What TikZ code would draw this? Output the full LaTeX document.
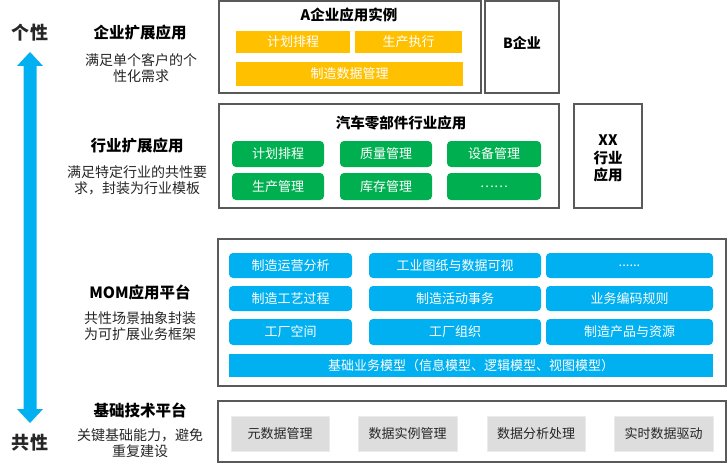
\documentclass[tikz,border=0pt]{standalone}
\usepackage{fontspec}
\setmainfont{Noto Sans CJK SC}
\definecolor{mblue}{HTML}{00B0F0}
\definecolor{mgreen}{HTML}{00B050}
\definecolor{myellow}{HTML}{FFC000}
\definecolor{mgray}{HTML}{DDDDDD}
\definecolor{mgrayline}{HTML}{EBEBEB}
\definecolor{frame}{HTML}{595959}
\definecolor{txt}{HTML}{262626}
\tikzset{
  outer/.style={draw=frame, line width=1.3pt, fill=white, inner sep=0pt},
  ybox/.style={fill=myellow, text=white, inner sep=0pt, font=\fontsize{13}{15}\selectfont},
  gbox/.style={fill=mgreen, rounded corners=4pt, text=white, inner sep=0pt, minimum width=92pt, font=\fontsize{13}{15}\selectfont},
  bbox/.style={fill=mblue, rounded corners=4pt, text=white, inner sep=0pt, font=\fontsize{13}{15}\selectfont},
  graybox/.style={fill=mgray, draw=mgrayline, line width=1pt, text=txt, inner sep=0pt, minimum width=98pt, minimum height=35pt, font=\fontsize{13}{15}\selectfont},
  head/.style={text=black, font=\bfseries\fontsize{15.5}{17}\selectfont},
  desc/.style={text=txt, align=center, font=\fontsize{14}{16}\selectfont},
  btitle/.style={text=black, font=\bfseries\fontsize{14.5}{17}\selectfont},
  side/.style={text=txt, font=\bfseries\fontsize{18}{20}\selectfont}
}
\begin{document}
\begin{tikzpicture}[x=1pt,y=-1pt]
\useasboundingbox (0,0) rectangle (727,468);

% left arrow
\coordinate (atop) at (30,52);
\coordinate (abot) at (30,423);
\fill[mblue] (atop) -- (43,66) -- (36.5,66) -- (36.5,409) -- (43,409) -- (abot) -- (17,409) -- (23.5,409) -- (23.5,66) -- (17,66) -- cycle;
\node[side] (ind) at (30,33) {个性};
\node[side] (com) at (30,443) {共性};

% left descriptions
\node[head] (h1) at (140,33) {企业扩展应用};
\node[desc] (d1) at (141,68) {满足单个客户的个\\性化需求};
\node[head] (h2) at (137,146) {行业扩展应用};
\node[desc] (d2) at (137,180) {满足特定行业的共性要\\求，封装为行业模板};
\node[head] (h3) at (140,292) {MOM应用平台};
\node[desc] (d3) at (140,326) {共性场景抽象封装\\为可扩展业务框架};
\node[head] (h4) at (140,410) {基础技术平台};
\node[desc] (d4) at (140,443.5) {关键基础能力，避免\\重复建设};

% enterprise layer
\node[outer, minimum width=262pt, minimum height=92pt] (A) at (350,47) {};
\node[btitle] (At) at (349,15) {A企业应用实例};
\node[ybox, minimum width=114pt, minimum height=22pt] (y1) at (293,42) {计划排程};
\node[ybox, minimum width=107pt, minimum height=22pt] (y2) at (408.5,42) {生产执行};
\node[ybox, minimum width=227pt, minimum height=24pt] (y3) at (349.5,74) {制造数据管理};
\node[outer, minimum width=74pt, minimum height=92pt] (B) at (522,47) {};
\node[btitle, font=\bfseries\fontsize{14}{16}\selectfont] (Bt) at (522,43) {B企业};

% industry layer
\node[outer, minimum width=340pt, minimum height=104pt] (C) at (389,156) {};
\node[btitle] (Ct) at (401,123) {汽车零部件行业应用};
\node[gbox, minimum height=26pt] (g1) at (278,154) {计划排程};
\node[gbox, minimum height=26pt] (g2) at (386,154) {质量管理};
\node[gbox, minimum height=26pt, minimum width=94pt] (g3) at (494,154) {设备管理};
\node[gbox, minimum height=27pt] (g4) at (278,186.5) {生产管理};
\node[gbox, minimum height=27pt] (g5) at (386,186.5) {库存管理};
\node[gbox, minimum height=27pt, minimum width=94pt] (g6) at (494,186.5) {……};
\node[outer, minimum width=68pt, minimum height=104pt] (X) at (608,156) {};
\node[btitle, align=center, font=\bfseries\fontsize{14.5}{17.5}\selectfont] (Xt) at (608,158.5) {XX\\行业\\应用};

% MOM layer
\node[outer, minimum width=508pt, minimum height=147pt] (M) at (472,312.5) {};
\node[bbox, minimum width=123pt, minimum height=25pt] (b1) at (290.5,265.5) {制造运营分析};
\node[bbox, minimum width=172pt, minimum height=25pt] (b2) at (455,265.5) {工业图纸与数据可视};
\node[bbox, minimum width=167pt, minimum height=25pt] (b3) at (629.5,265.5) {......};
\node[bbox, minimum width=123pt, minimum height=25pt] (b4) at (290.5,298.5) {制造工艺过程};
\node[bbox, minimum width=172pt, minimum height=25pt] (b5) at (455,298.5) {制造活动事务};
\node[bbox, minimum width=167pt, minimum height=25pt] (b6) at (629.5,298.5) {业务编码规则};
\node[bbox, minimum width=123pt, minimum height=26pt] (b7) at (290.5,332) {工厂空间};
\node[bbox, minimum width=172pt, minimum height=26pt] (b8) at (455,332) {工厂组织};
\node[bbox, minimum width=167pt, minimum height=26pt] (b9) at (629.5,332) {制造产品与资源};
\node[bbox, rounded corners=0pt, minimum width=484pt, minimum height=23pt] (bar) at (471,365.5) {基础业务模型（信息模型、逻辑模型、视图模型）};

% base layer
\node[outer, minimum width=508pt, minimum height=61pt] (T) at (472,431.5) {};
\node[graybox] (t1) at (280,433.5) {元数据管理};
\node[graybox, minimum width=99pt] (t2) at (407.5,433.5) {数据实例管理};
\node[graybox] (t3) at (536,433.5) {数据分析处理};
\node[graybox, minimum width=99pt] (t4) at (663.5,433.5) {实时数据驱动};
\end{tikzpicture}
\end{document}
